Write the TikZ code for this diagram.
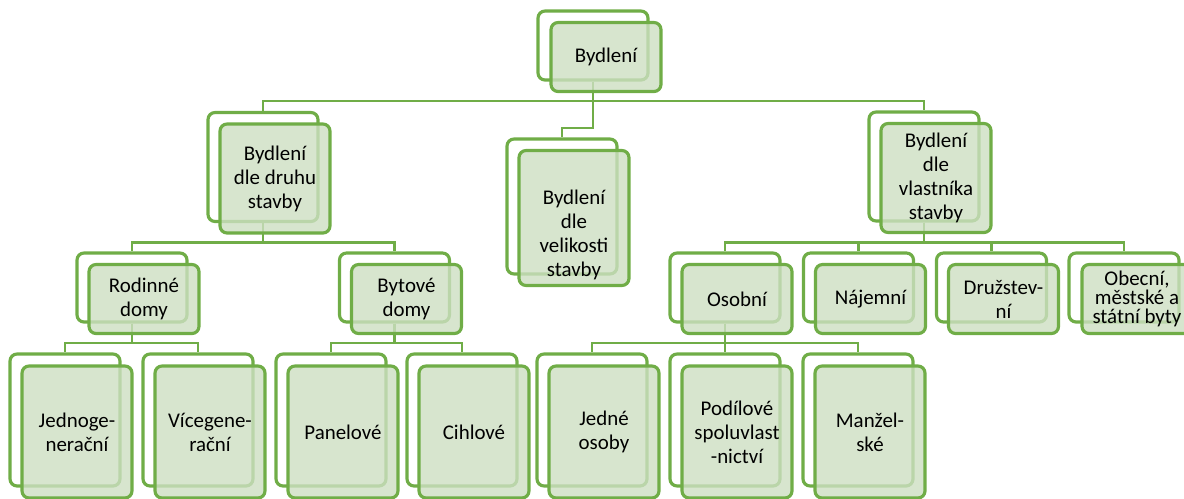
\documentclass[tikz,border=0pt]{standalone}
\usepackage{fontspec}
\setmainfont{Carlito}
\usetikzlibrary{backgrounds}

\definecolor{zelena}{HTML}{70AD47}
\definecolor{vypln}{HTML}{CDDFC2}

\tikzset{
  zadni/.style={draw=zelena, line width=1.8pt, rounded corners=4pt, fill=white,
    minimum width=2.2cm, inner sep=0pt},
  predni/.style={draw=zelena, line width=1.8pt, rounded corners=4pt, fill=vypln,
    fill opacity=0.8, text opacity=1, minimum width=2.2cm, inner sep=0pt,
    align=center, font=\fontsize{11.9}{13.7}\selectfont},
  popis/.style={align=center, inner sep=0pt, font=\fontsize{11.9}{13.7}\selectfont},
  spoj/.style={draw=zelena, line width=1.4pt},
  nizky/.style={minimum height=1.38cm},
  stredni/.style={minimum height=2.18cm},
  vysoky/.style={minimum height=2.64cm}
}

\begin{document}
\begin{tikzpicture}[x=0.02cm, y=-0.02cm]
\useasboundingbox (0,0) rectangle (1184,498);

% koren
\node[zadni, nizky] (korenB) at (593,45.5) {};
\node[predni, nizky] (koren) at (606,57) {Bydlení};

% prvni uroven
\node[zadni, stredni] (druhB) at (263,167) {};
\node[predni, stredni] (druh) at (275,178.5) {Bydlení\\dle druhu\\stavby};
\node[zadni, minimum height=2.7cm] (velikostB) at (562,206.5) {};
\node[predni, minimum height=2.7cm] (velikost) at (574,218) {};
\node[popis] (velikostT) at (574,235) {Bydlení\\dle\\velikosti\\stavby};
\node[zadni, stredni] (vlastnikB) at (924,166.5) {};
\node[predni, stredni] (vlastnik) at (936,178) {Bydlení\\dle\\vlastníka\\stavby};

% druha uroven
\node[zadni, nizky] (rodinneB) at (132,287.5) {};
\node[predni, nizky] (rodinne) at (144,299) {Rodinné\\domy};
\node[zadni, nizky] (bytoveB) at (394.5,287.5) {};
\node[predni, nizky] (bytove) at (406.5,299) {Bytové\\domy};
\node[zadni, nizky] (osobniB) at (725,287.5) {};
\node[predni, nizky] (osobni) at (737,299) {Osobní};
\node[zadni, nizky] (najemniB) at (858.5,287.5) {};
\node[predni, nizky] (najemni) at (870.5,299) {Nájemní};
\node[zadni, nizky] (druzstevniB) at (991.5,287.5) {};
\node[predni, nizky] (druzstevni) at (1003.5,299) {Družstev-\\ní};
\node[zadni, nizky] (obecniB) at (1124,287.5) {};
\node[predni, nizky, font=\fontsize{11.9}{10.8}\selectfont] (obecni) at (1137,299) {Obecní,\\městské a\\státní byty};

% treti uroven
\node[zadni, vysoky] (jednoB) at (65,420) {};
\node[predni, vysoky] (jedno) at (77,432) {Jednoge-\\nerační};
\node[zadni, vysoky] (viceB) at (198,420) {};
\node[predni, vysoky] (vice) at (210,432) {Vícegene-\\rační};
\node[zadni, vysoky] (panelB) at (331,420) {};
\node[predni, vysoky] (panel) at (343,432) {Panelové};
\node[zadni, vysoky] (cihlB) at (462,420) {};
\node[predni, vysoky] (cihl) at (474,432) {Cihlové};
\node[zadni, vysoky] (jedneB) at (592,420) {};
\node[predni, vysoky] (jedne) at (604,432) {Jedné\\osoby};
\node[zadni, vysoky] (podilB) at (725,420) {};
\node[predni, vysoky] (podil) at (737,432) {Podílové\\spoluvlast\\-nictví};
\node[zadni, vysoky] (manzB) at (858,420) {};
\node[predni, vysoky] (manz) at (870,432) {Manžel-\\ské};

% spojnice
\coordinate (sber0) at (0,101);
\coordinate (sber0m) at (0,128);
\coordinate (sber1) at (0,242.5);
\coordinate (sber2) at (0,343);
\begin{scope}[on background layer]
\draw[spoj] (korenB.south) |- (druhB.north |- sber0) -- (druhB.north);
\draw[spoj] (korenB.south) |- (vlastnikB.north |- sber0) -- (vlastnikB.north);
\draw[spoj] (korenB.south) |- (velikostB.north |- sber0m) -- (velikostB.north);
\draw[spoj] (druhB.south) |- (rodinneB.north |- sber1) -- (rodinneB.north);
\draw[spoj] (druhB.south) |- (bytoveB.north |- sber1) -- (bytoveB.north);
\draw[spoj] (vlastnikB.south) |- (osobniB.north |- sber1) -- (osobniB.north);
\draw[spoj] (vlastnikB.south) |- (najemniB.north |- sber1) -- (najemniB.north);
\draw[spoj] (vlastnikB.south) |- (druzstevniB.north |- sber1) -- (druzstevniB.north);
\draw[spoj] (vlastnikB.south) |- (obecniB.north |- sber1) -- (obecniB.north);
\draw[spoj] (rodinneB.south) |- (jednoB.north |- sber2) -- (jednoB.north);
\draw[spoj] (rodinneB.south) |- (viceB.north |- sber2) -- (viceB.north);
\draw[spoj] (bytoveB.south) |- (panelB.north |- sber2) -- (panelB.north);
\draw[spoj] (bytoveB.south) |- (cihlB.north |- sber2) -- (cihlB.north);
\draw[spoj] (osobniB.south) |- (jedneB.north |- sber2) -- (jedneB.north);
\draw[spoj] (osobniB.south) |- (podilB.north |- sber2) -- (podilB.north);
\draw[spoj] (osobniB.south) |- (manzB.north |- sber2) -- (manzB.north);
\end{scope}
\end{tikzpicture}
\end{document}
